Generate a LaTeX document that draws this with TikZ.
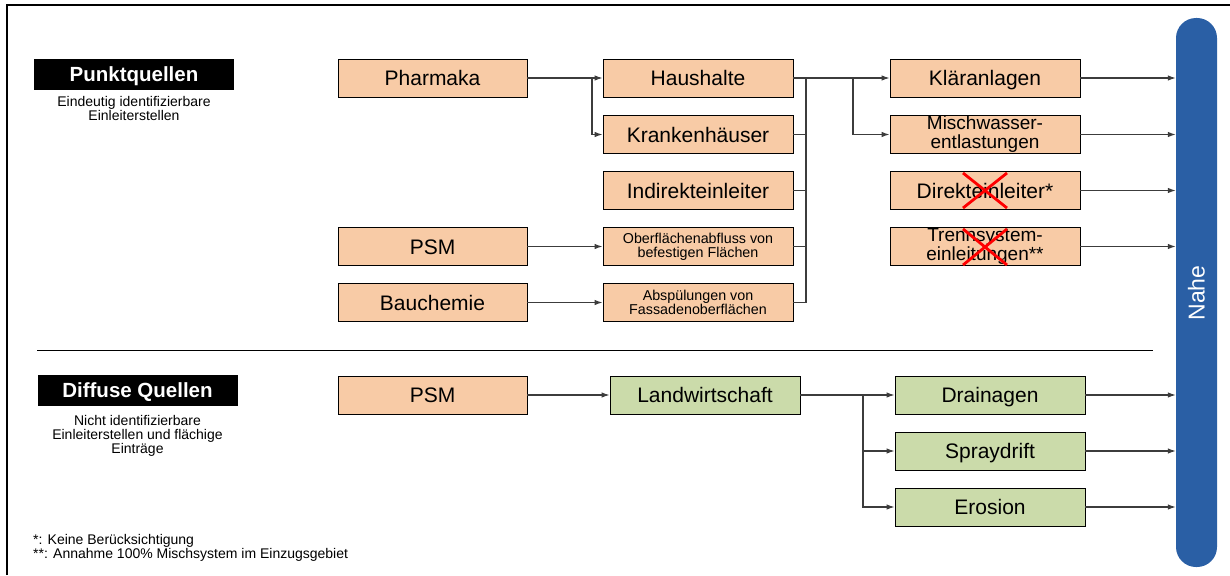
\documentclass[tikz,border=0pt]{standalone}
\usepackage{fontspec}
\setmainfont{Liberation Sans}
\usetikzlibrary{arrows.meta}
\definecolor{peach}{HTML}{F8CBA6}
\definecolor{sage}{HTML}{CBDBAA}
\definecolor{nahe}{HTML}{2A5FA5}
\definecolor{conncol}{HTML}{3C3C3C}
\newcommand{\fs}[2]{\fontsize{#1}{#2}\selectfont}
\tikzset{
  base/.style={draw=black, line width=0.9pt, minimum width=190pt, minimum height=38pt, inner sep=0pt, align=center, font=\fs{21}{22}},
  one/.style={text height=15pt, text depth=0pt},
  obox/.style={base, one, fill=peach},
  gbox/.style={base, one, fill=sage},
  mbox/.style={base, fill=peach},
  small/.style={font=\fs{14.3}{14}},
  mid/.style={font=\fs{19}{19}},
  conn/.style={draw=conncol, line width=1.1pt},
  arr/.style={conn, -{Latex[length=8pt,width=5.5pt]}},
  title/.style={fill=black, text=white, minimum width=200pt, minimum height=31pt, inner sep=0pt, text height=14.5pt, text depth=0pt, font=\bfseries\fs{20.5}{20}},
  sub/.style={align=center, font=\fs{14}{14}, inner sep=0pt},
  cross/.style={draw=red, line width=2.8pt}
}
\begin{document}
\begin{tikzpicture}[x=1pt,y=-1pt]
\useasboundingbox (0,0) rectangle (1230,575);
% frame
\draw[line width=1.5pt] (7,575) -- (7,5) -- (1230,5);
% separator
\draw[line width=1pt] (37,350) -- (1153,350);

% titles
\node[title] (pq) at (134,74.5) {Punktquellen};
\node[sub] (pqs) at (134,108.5) {Eindeutig identifizierbare\\Einleiterstellen};
\node[title] (dq) at (137.5,390.5) {Diffuse Quellen};
\node[sub] (dqs) at (137.5,435.5) {Nicht identifizierbare\\Einleiterstellen und fl\"achige\\Eintr\"age};
\node[sub, align=left, anchor=west] (fn) at (33,548) {*: Keine Ber\"ucksichtigung\\**: Annahme 100\% Mischsystem im Einzugsgebiet};

% column 1
\node[obox, minimum width=189pt] (pharm) at (432.5,78) {Pharmaka};
\node[obox, minimum width=189pt] (psm) at (432.5,246.5) {PSM};
\node[obox, minimum width=189pt] (bau) at (432.5,302.5) {Bauchemie};
\node[obox, minimum width=189pt] (psm2) at (432.5,395) {PSM};

% column 2
\node[obox] (haus) at (698,78) {Haushalte};
\node[obox] (kr) at (698,134.5) {Krankenh\"auser};
\node[obox] (ind) at (698,190.5) {Indirekteinleiter};
\node[mbox, small] (ob) at (698,246.5) {Oberfl\"achenabfluss von\\befestigen Fl\"achen};
\node[mbox, small] (ab) at (698,302.5) {Absp\"ulungen von\\Fassadenoberfl\"achen};

% column 3
\node[obox] (kl) at (985,78) {Kl\"aranlagen};
\node[mbox, mid] (mw) at (985,134.5) {Mischwasser-\\entlastungen};
\node[obox] (di) at (985,190.5) {Direkteinleiter*};
\node[mbox, mid] (tr) at (985,246.5) {Trennsystem-\\einleitungen**};

% diffuse
\node[gbox] (lw) at (705,395) {Landwirtschaft};
\node[gbox] (dr) at (990,395) {Drainagen};
\node[gbox] (sp) at (990,451) {Spraydrift};
\node[gbox] (er) at (990,507) {Erosion};

% Nahe
\node[fill=nahe, rounded corners=20pt, minimum width=41pt, minimum height=549pt, inner sep=0pt] (nahe) at (1196.5,292.5) {};
\node[rotate=90, text=white, font=\fs{23}{24}] (nahetxt) at (1196.5,293) {Nahe};

% red crosses
\draw[cross] (963,173) -- (1007,208);
\draw[cross] (1007,173) -- (963,208);
\draw[cross] (963,229) -- (1007,265);
\draw[cross] (1007,229) -- (963,265);

% connectors column 1 -> 2
\coordinate (b1) at (592,78);
\draw[arr] (pharm.east) -- (haus.west);
\draw[arr] (b1) |- (kr.west);
\draw[arr] (psm.east) -- (ob.west);
\draw[arr] (bau.east) -- (ab.west);

% bus column 2 -> 3
\coordinate (bus) at (806,78);
\coordinate (b2) at (853,78);
\draw[conn] (haus.east) -- (bus);
\draw[conn] (kr.east) -- (kr.east -| bus);
\draw[conn] (ind.east) -- (ind.east -| bus);
\draw[conn] (ob.east) -- (ob.east -| bus);
\draw[conn] (ab.east) -- (ab.east -| bus);
\draw[conn] (bus |- ab.east) -- (bus);
\draw[arr] (bus) -- (kl.west);
\draw[arr] (b2) |- (mw.west);

% to Nahe
\draw[arr] (kl.east) -- (kl.east -| nahe.west);
\draw[arr] (mw.east) -- (mw.east -| nahe.west);
\draw[arr] (di.east) -- (di.east -| nahe.west);
\draw[arr] (tr.east) -- (tr.east -| nahe.west);

% diffuse connectors
\coordinate (b3) at (863,395);
\draw[arr] (psm2.east) -- (lw.west);
\draw[arr] (lw.east) -- (dr.west);
\draw[arr] (b3) |- (sp.west);
\draw[arr] (b3) |- (er.west);
\draw[arr] (dr.east) -- (dr.east -| nahe.west);
\draw[arr] (sp.east) -- (sp.east -| nahe.west);
\draw[arr] (er.east) -- (er.east -| nahe.west);
\end{tikzpicture}
\end{document}
